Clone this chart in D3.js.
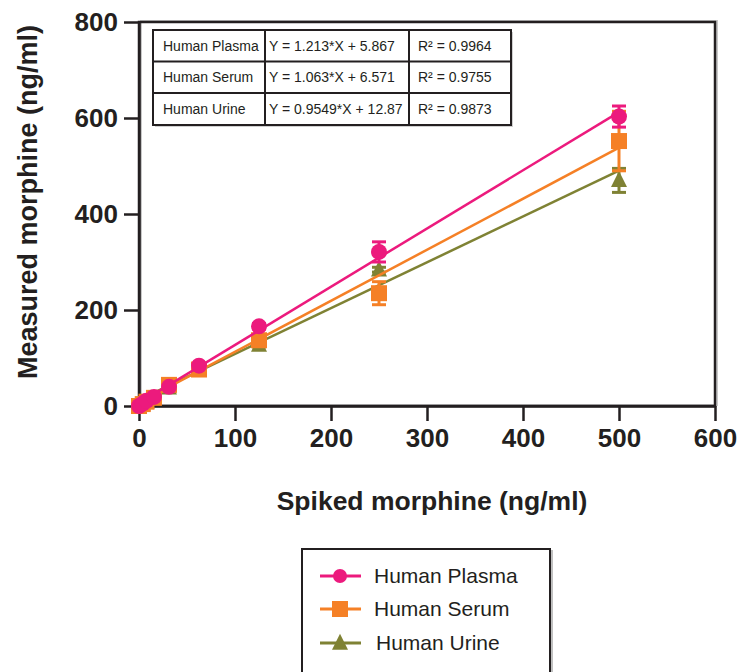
<!DOCTYPE html>
<html>
<head>
<meta charset="utf-8">
<script src="https://cdn.jsdelivr.net/npm/d3@7/dist/d3.min.js"></script>
<style>
  html, body { margin: 0; padding: 0; background: #fff; }
  svg { display: block; font-family: "Liberation Sans", Arial, Helvetica, sans-serif; }
</style>
</head>
<body>
<div class="chart"></div>
<script>
// spiked concentrations (ng/ml)
const spiked = [0, 3.9, 7.8, 15.6, 31.25, 62.5, 125, 250, 500];

// measured means and error bars
const plasmaMean = [0, 5, 11, 19, 40, 84, 166, 321, 603];
const plasmaErr  = [1, 1, 1, 2, 3, 4, 6, 21, 22];
const serumMean  = [0, 4, 9, 17, 44, 76, 137, 235, 552];
const serumErr   = [1, 1, 1, 2, 3, 3, 5, 24, 62];
const urineMean  = [0, 3, 8, 16, 38, 80, 127, 284, 470];
const urineErr   = [1, 1, 1, 1, 2, 3, 4, 5, 25];

const seriesNames = ['Human Plasma', 'Human Serum', 'Human Urine'];
const slopes      = [1.213, 1.063, 0.9549];
const intercepts  = [5.867, 6.571, 12.87];
const equations   = ['Y = 1.213*X + 5.867', 'Y = 1.063*X + 6.571', 'Y = 0.9549*X + 12.87'];
const rSquared    = ['R\u00B2 = 0.9964', 'R\u00B2 = 0.9755', 'R\u00B2 = 0.9873'];

const xTicks = [0, 100, 200, 300, 400, 500, 600];
const yTicks = [0, 200, 400, 600, 800];

const colors = ['#ec1a7d', '#f58026', '#7f8234'];
const ink = '#231f20';

const series = [
    { name: seriesNames[0], mean: plasmaMean, err: plasmaErr, color: colors[0], shape: 'circle' },
    { name: seriesNames[1], mean: serumMean, err: serumErr, color: colors[1], shape: 'square' },
    { name: seriesNames[2], mean: urineMean, err: urineErr, color: colors[2], shape: 'triangle' }
];

const W = 737, H = 672;
const x = d3.scaleLinear().domain([0, 600]).range([139, 715]);
const y = d3.scaleLinear().domain([0, 800]).range([406, 22]);

const svg = d3.select('.chart').append('svg')
    .attr('width', W)
    .attr('height', H);

// draw a marker of the given shape centred on 0,0
function marker(g, shape, color, s) {
    if (shape === 'circle') {
        g.append('circle').attr('r', s / 2).attr('fill', color);
    } else if (shape === 'square') {
        g.append('rect').attr('x', -s / 2).attr('y', -s / 2)
            .attr('width', s).attr('height', s).attr('fill', color);
    } else {
        const h = s;
        g.append('path')
            .attr('d', `M0,${-h * 0.58}L${s / 2},${h * 0.42}L${-s / 2},${h * 0.42}Z`)
            .attr('fill', color);
    }
}

// frame with faint shadow
svg.append('rect')
    .attr('x', x(0) + 2).attr('y', y(800) - 1)
    .attr('width', x(600) - x(0)).attr('height', y(0) - y(800))
    .attr('fill', 'none').attr('stroke', '#c8c8c8').attr('stroke-width', 2);
svg.append('rect')
    .attr('x', x(0)).attr('y', y(800))
    .attr('width', x(600) - x(0)).attr('height', y(0) - y(800))
    .attr('fill', 'none').attr('stroke', ink).attr('stroke-width', 2.5);

// axes
const yAxis = svg.append('g')
    .attr('transform', `translate(${x(0)},0)`)
    .call(d3.axisLeft(y).tickValues(yTicks).tickSize(15).tickSizeOuter(0).tickPadding(6));
const xAxis = svg.append('g')
    .attr('transform', `translate(0,${y(0)})`)
    .call(d3.axisBottom(x).tickValues(xTicks).tickSize(15).tickSizeOuter(0).tickPadding(8));

[yAxis, xAxis].forEach(a => {
    a.select('.domain').attr('stroke', ink).attr('stroke-width', 2.5);
    a.selectAll('.tick line').attr('stroke', ink).attr('stroke-width', 2.5);
    a.selectAll('.tick text')
        .attr('fill', ink)
        .style('font-size', '26px')
        .style('font-weight', 'bold');
});

// axis titles
svg.append('text')
    .attr('x', 432).attr('y', 510)
    .attr('text-anchor', 'middle')
    .attr('fill', ink)
    .style('font-size', '26.5px')
    .style('font-weight', 'bold')
    .text('Spiked morphine (ng/ml)');

svg.append('text')
    .attr('transform', 'translate(37,202) rotate(-90)')
    .attr('text-anchor', 'middle')
    .attr('fill', ink)
    .style('font-size', '27px')
    .style('font-weight', 'bold')
    .text('Measured morphine (ng/ml)');

// series, drawn back to front
const xMin = d3.min(spiked), xMax = d3.max(spiked);
series.slice().reverse().forEach(s => {
    const i = series.indexOf(s);
    const g = svg.append('g');

    g.append('line')
        .attr('x1', x(xMin)).attr('y1', y(slopes[i] * xMin + intercepts[i]))
        .attr('x2', x(xMax)).attr('y2', y(slopes[i] * xMax + intercepts[i]))
        .attr('stroke', s.color).attr('stroke-width', 2.5);

    const pts = g.selectAll('g.pt')
        .data(spiked.map((v, k) => ({ x: v, m: s.mean[k], e: s.err[k] })))
        .join('g')
        .attr('class', 'pt');

    pts.append('line')
        .attr('x1', d => x(d.x)).attr('x2', d => x(d.x))
        .attr('y1', d => y(d.m - d.e)).attr('y2', d => y(d.m + d.e))
        .attr('stroke', s.color).attr('stroke-width', 3);
    pts.append('line')
        .attr('x1', d => x(d.x) - 7).attr('x2', d => x(d.x) + 7)
        .attr('y1', d => y(d.m + d.e)).attr('y2', d => y(d.m + d.e))
        .attr('stroke', s.color).attr('stroke-width', 3);
    pts.append('line')
        .attr('x1', d => x(d.x) - 7).attr('x2', d => x(d.x) + 7)
        .attr('y1', d => y(d.m - d.e)).attr('y2', d => y(d.m - d.e))
        .attr('stroke', s.color).attr('stroke-width', 3);

    pts.each(function (d) {
        const m = d3.select(this).append('g')
            .attr('transform', `translate(${x(d.x)},${y(d.m)})`);
        marker(m, s.shape, s.color, 16);
    });
});

// equation table
const colX = [153, 265, 409, 511];
const rowY = [30, 61.5, 93, 125];
const tab = svg.append('g');
tab.append('rect')
    .attr('x', colX[0] + 2).attr('y', rowY[0] + 2)
    .attr('width', colX[3] - colX[0]).attr('height', rowY[3] - rowY[0])
    .attr('fill', '#d0d0d0');
tab.append('rect')
    .attr('x', colX[0]).attr('y', rowY[0])
    .attr('width', colX[3] - colX[0]).attr('height', rowY[3] - rowY[0])
    .attr('fill', '#fff').attr('stroke', ink).attr('stroke-width', 2);
colX.slice(1, 3).forEach(cx => {
    tab.append('line').attr('x1', cx).attr('x2', cx)
        .attr('y1', rowY[0]).attr('y2', rowY[3])
        .attr('stroke', ink).attr('stroke-width', 2);
});
rowY.slice(1, 3).forEach(ry => {
    tab.append('line').attr('x1', colX[0]).attr('x2', colX[3])
        .attr('y1', ry).attr('y2', ry)
        .attr('stroke', ink).attr('stroke-width', 2);
});
const cellPad = [10, 4, 9];
[seriesNames, equations, rSquared].forEach((col, c) => {
    col.forEach((t, r) => {
        tab.append('text')
            .attr('x', colX[c] + cellPad[c])
            .attr('y', (rowY[r] + rowY[r + 1]) / 2 + 5)
            .attr('fill', ink)
            .style('font-size', '14px')
            .text(t);
    });
});

// legend
const leg = svg.append('g');
leg.append('rect')
    .attr('x', 304).attr('y', 551).attr('width', 248).attr('height', 140)
    .attr('fill', 'none').attr('stroke', '#c0c0c0').attr('stroke-width', 2);
leg.append('rect')
    .attr('x', 302).attr('y', 549).attr('width', 248).attr('height', 140)
    .attr('fill', '#fff').attr('stroke', ink).attr('stroke-width', 2);
const legY = [576, 609, 643];
series.forEach((s, i) => {
    const row = leg.append('g').attr('transform', `translate(0,${legY[i]})`);
    row.append('line').attr('x1', 320).attr('x2', 361)
        .attr('stroke', s.color).attr('stroke-width', 3);
    const m = row.append('g').attr('transform', 'translate(340,0)');
    marker(m, s.shape, s.color, s.shape === 'circle' ? 14 : 16);
    row.append('text')
        .attr('x', i === 2 ? 376 : 374).attr('y', 7)
        .attr('fill', ink)
        .style('font-size', '21px')
        .text(s.name);
});
</script>
</body>
</html>
